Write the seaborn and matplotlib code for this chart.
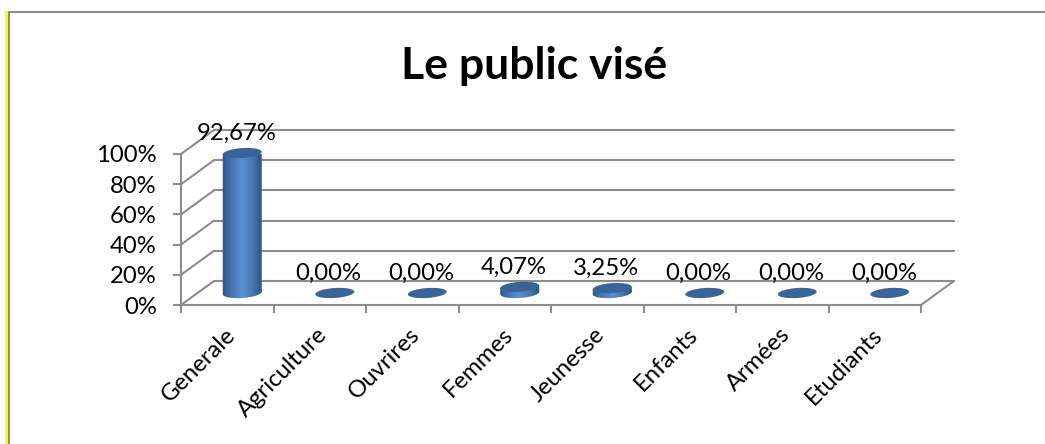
import numpy as np
import matplotlib
matplotlib.use("Agg")
import matplotlib.pyplot as plt
import seaborn as sns
from matplotlib.patches import Rectangle, PathPatch
from matplotlib.path import Path
from matplotlib.transforms import Affine2D
from matplotlib.colors import LinearSegmentedColormap

categories = ["Generale", "Agriculture", "Ouvrires", "Femmes", "Jeunesse", "Enfants", "Armées", "Etudiants"]
values = [92.67, 0.0, 0.0, 4.07, 3.25, 0.0, 0.0, 0.0]
value_labels = ["92,67%", "0,00%", "0,00%", "4,07%", "3,25%", "0,00%", "0,00%", "0,00%"]
y_ticks = [0, 20, 40, 60, 80, 100]
y_tick_labels = ["0%", "20%", "40%", "60%", "80%", "100%"]
title = "Le public visé"

GRAY = "#8c8c8c"
TOP = "#3a6497"
W, H = 1045, 444
FS = 17.2

sns.set_theme(style="white")
plt.rcParams["font.family"] = ["Lato", "DejaVu Sans"]

fig = plt.figure(figsize=(W / 100, H / 100), dpi=100, facecolor="white")
ax = fig.add_axes([181 / W, (H - 305) / H, (921 - 181) / W, (305 - 154) / H])
sns.barplot(x=categories, y=values, color=TOP, width=0.42, saturation=1, ax=ax)
ax.set_xlim(-0.5, 7.5)
ax.set_ylim(0, 100)
ax.patch.set_alpha(0)
ax.set_xlabel("")
ax.set_ylabel("")
for s in ["top", "right"]:
    ax.spines[s].set_visible(False)
for s in ["left", "bottom"]:
    ax.spines[s].set_color(GRAY)
    ax.spines[s].set_linewidth(1.5)

ax.set_yticks(y_ticks, y_tick_labels)
ax.set_xticks(np.arange(len(categories)), categories)
ax.tick_params(axis="y", length=5.5, width=1.5, color=GRAY, labelsize=FS, pad=12, left=True, labelcolor="black")
ax.tick_params(axis="x", length=0, labelsize=FS, pad=13, labelcolor="black")
for lab in ax.get_xticklabels():
    lab.set_rotation(45)
    lab.set_ha("right")
    lab.set_va("top")
    lab.set_rotation_mode("anchor")
    lab.set_transform(lab.get_transform() + Affine2D().translate(-3, -1))
# boundary ticks below the floor
ax.set_xticks(np.arange(len(categories) + 1) - 0.5, minor=True)
ax.tick_params(axis="x", which="minor", length=5.5, width=1.5, color=GRAY, bottom=True)

fig.canvas.draw()
wall = ax.transData + Affine2D().translate(33, 24)
mid = ax.transData + Affine2D().translate(15, 12)

# back wall gridlines and side wall diagonals
for t in y_ticks:
    ax.plot([-0.5, 7.5], [t, t], color=GRAY, lw=1.5, transform=wall, clip_on=False, zorder=1)
    p0 = ax.transData.transform((-0.5, t))
    ax.plot([p0[0], p0[0] + 33], [p0[1], p0[1] + 24], color=GRAY, lw=1.5,
            transform=None, clip_on=False, zorder=1)
p1 = ax.transData.transform((7.5, 0))
ax.plot([p1[0], p1[0] + 33], [p1[1], p1[1] + 24], color=GRAY, lw=1.5, transform=None, clip_on=False, zorder=1)

# cylinders: the seaborn bars give position and height
cmap = LinearSegmentedColormap.from_list("cyl", ["#2d5685", "#4677b3", "#5c8fd0", "#4677b3", "#2a5080"])
grad = np.linspace(0, 1, 128).reshape(1, -1)
RX, RY = 19.5, 5.0


def ellipse(cx, cy):
    return Path.unit_circle().transformed(Affine2D().scale(RX, RY).rotate_deg(4).translate(cx, cy))


for bar, v, txt in zip(ax.patches, values, value_labels):
    cx_data = bar.get_x() + bar.get_width() / 2
    bar.set_visible(False)
    x0, y0 = mid.transform((cx_data, 0))
    x1, y1 = mid.transform((cx_data, v))
    if v > 0:
        bottom = ellipse(x0, y0)
        body = Path.make_compound_path(
            bottom,
            Path([(x0 - RX, y0 - 1), (x0 + RX, y0 + 1), (x1 + RX, y1 + 1), (x1 - RX, y1 - 1), (x0 - RX, y0 - 1)],
                 closed=True),
        )
        clip = PathPatch(body, transform=None, fc="none", ec="none")
        ax.add_patch(clip)
        im = ax.imshow(grad, cmap=cmap, aspect="auto", extent=(cx_data - 0.22, cx_data + 0.22, -6, v + 6),
                       transform=mid, zorder=3, clip_on=True)
        im.set_clip_path(clip)
    ax.add_patch(PathPatch(ellipse(x1, y1), transform=None, fc=TOP, ec="none", zorder=4, clip_on=False))
    ax.text(cx_data, v, txt, transform=ax.transData + Affine2D().translate(9, 32), ha="center", va="center",
            fontsize=FS, color="black", zorder=5, clip_on=False)
ax.set_xlim(-0.5, 7.5)
ax.set_ylim(0, 100)

fig.text(534 / W, (H - 66) / H, title, ha="center", va="center", fontsize=32, fontweight="bold", color="black")

# page border
fig.add_artist(Rectangle((5 / W, 0), 3 / W, (H - 11) / H, transform=fig.transFigure, fc="#ffff00", ec="none"))
fig.add_artist(Rectangle((8 / W, 0), 2 / W, (H - 11) / H, transform=fig.transFigure, fc=GRAY, ec="none"))
fig.add_artist(Rectangle((8 / W, (H - 13) / H), (W - 8) / W, 2 / H, transform=fig.transFigure, fc=GRAY, ec="none"))

fig.savefig("out.png", dpi=100, facecolor="white")
